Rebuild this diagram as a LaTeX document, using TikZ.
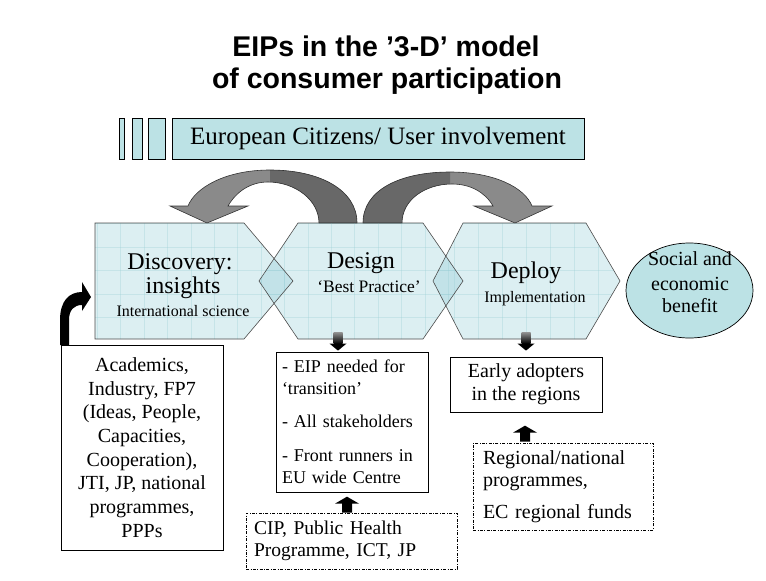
\documentclass[tikz,border=0pt]{standalone}
\usepackage{fontspec}
\setmainfont{Liberation Serif}
\newfontfamily\titlefont{Liberation Sans}
\usetikzlibrary{calc,shapes.geometric}
\definecolor{barfill}{HTML}{BCE2E5}
\definecolor{hexfill}{RGB}{110,187,200}
\definecolor{gridcol}{RGB}{150,205,212}
\definecolor{arrlight}{HTML}{8A8A8A}
\definecolor{arrdark}{HTML}{686868}
\newcommand\hexDiscovery{(95,223) -- (244,223) -- (293,281) -- (244,339) -- (95,339) -- cycle}
\newcommand\hexDesign{(259,281) -- (298,223) -- (423,223) -- (463,281) -- (423,339) -- (298,339) -- cycle}
\newcommand\hexDeploy{(433,281) -- (463,223) -- (586,223) -- (620,281) -- (586,339) -- (463,339) -- cycle}
\newcommand\arrowA{(357,223) .. controls (357,190) and (320,170) .. (270,170) .. controls (225,170) and (195,188) .. (188,206) -- (170,206) -- (207,223) -- (248,206) -- (228,206) .. controls (236,192) and (250,182) .. (268,182) .. controls (295,182) and (319,200) .. (319,223) -- cycle}
\newcommand\arrowB{(363,223) .. controls (363,190) and (400,172) .. (450,172) .. controls (495,172) and (525,188) .. (532,206) -- (552,206) -- (515,223) -- (474,206) -- (493,206) .. controls (485,192) and (470,184) .. (452,184) .. controls (425,184) and (402,200) .. (402,223) -- cycle}
\begin{document}
\begin{tikzpicture}[x=1pt,y=-1pt,
  hexfillstyle/.style={fill=hexfill, fill opacity=0.235},
  hexline/.style={draw=black!70, line width=0.6pt},
  gridline/.style={draw=gridcol, draw opacity=0.3, line width=0.5pt},
  arrline/.style={draw=black!80, line width=0.6pt},
  hexbig/.style={font=\fontsize{24}{28}\selectfont, inner sep=0pt},
  hexsmall/.style={font=\fontsize{16}{19}\selectfont, inner sep=0pt},
  ellipsetext/.style={font=\fontsize{20}{24}\selectfont, inner sep=0pt},
  box/.style={draw=black, line width=0.8pt, fill=white, inner sep=0pt},
  dbox/.style={draw=black, line width=0.7pt, dash pattern=on 3pt off 1.5pt on 0.8pt off 1.5pt, fill=white, inner sep=0pt},
  bar/.style={draw=black, line width=0.9pt, fill=barfill, inner sep=0pt, minimum height=41},
  titlestyle/.style={font=\titlefont\bfseries\fontsize{28.5}{32}\selectfont, inner sep=0pt},
  blockdown/.pic={
    \shade[top color=black!45, bottom color=black] (-4.5,-18) rectangle (4.5,-7);
    \fill[black] (-8.5,-7) -- (8.5,-7) -- (0,0) -- cycle;
  },
  blockup/.pic={
    \fill[black] (0,0) -- (12,7) -- (5,7) -- (5,16) -- (-5,16) -- (-5,7) -- (-12,7) -- cycle;
  }
]
\useasboundingbox (0,0) rectangle (766,581);
\fill[white] (0,0) rectangle (766,581);

% title
\node[titlestyle, anchor=base] (title1) at (386,56) {EIPs in the ’3-D’ model};
\node[titlestyle, anchor=base] (title2) at (387,88) {of consumer participation};

% top bar
\node[bar, minimum width=5] (bar1) at (121.5,138.5) {};
\node[bar, minimum width=10] (bar2) at (137,138.5) {};
\node[bar, minimum width=17] (bar3) at (156.5,138.5) {};
\node[bar, minimum width=412, font=\fontsize{25}{29}\selectfont] (citizens) at (378,138.5) {European Citizens/ User involvement};

% curved arrows
\fill[arrlight] \arrowA;
\begin{scope}
  \clip (270,150) rectangle (400,230);
  \fill[arrdark] \arrowA;
\end{scope}
\draw[arrline] \arrowA;
\fill[arrlight] \arrowB;
\begin{scope}
  \clip (340,150) rectangle (450,230);
  \fill[arrdark] \arrowB;
\end{scope}
\draw[arrline] \arrowB;

% hexagons
\fill[hexfillstyle] \hexDiscovery;
\fill[hexfillstyle] \hexDesign;
\fill[hexfillstyle] \hexDeploy;
\begin{scope}
  \clip \hexDiscovery;
  \foreach \x in {97.2,120.6,...,300} \draw[gridline] (\x,220) -- (\x,342);
  \foreach \y in {223.6,247,...,340} \draw[gridline] (90,\y) -- (300,\y);
\end{scope}
\begin{scope}
  \clip \hexDesign;
  \foreach \x in {261,284.4,...,470} \draw[gridline] (\x,220) -- (\x,342);
  \foreach \y in {223.6,247,...,340} \draw[gridline] (255,\y) -- (470,\y);
\end{scope}
\begin{scope}
  \clip \hexDeploy;
  \foreach \x in {430,454,...,625} \draw[gridline] (\x,220) -- (\x,342);
  \foreach \y in {223.6,247,...,340} \draw[gridline] (430,\y) -- (625,\y);
\end{scope}
\draw[hexline] \hexDiscovery;
\draw[hexline] \hexDesign;
\draw[hexline] \hexDeploy;

% hexagon texts
\node[hexbig, anchor=base] (disc1) at (180,269) {Discovery:};
\node[hexbig, anchor=base] (disc2) at (183,293) {insights};
\node[hexsmall, anchor=base] (disc3) at (183,316) {International science};
\node[hexbig, anchor=base] (des1) at (361,268) {Design};
\node[hexsmall, anchor=base, font=\fontsize{17.5}{20}\selectfont] (des2) at (369,292) {‘Best Practice’};
\node[hexbig, anchor=base] (dep1) at (526,278) {Deploy};
\node[hexsmall, anchor=base] (dep2) at (535,302) {Implementation};

% ellipse
\node[draw=black, line width=0.7pt, ellipse, fill=barfill, minimum width=127, minimum height=95, inner sep=0pt] (benefit) at (689.5,290.5) {};
\node[ellipsetext, anchor=base] (ben1) at (690,265) {Social and};
\node[ellipsetext, anchor=base] (ben2) at (690,290) {economic};
\node[ellipsetext, anchor=base] (ben3) at (690,312) {benefit};

% boxes
\node[box, minimum width=162, minimum height=205, align=center, font=\fontsize{20}{23.7}\selectfont] (acad) at (142,447.5)
  {Academics,\\Industry, FP7\\(Ideas, People,\\Capacities,\\Cooperation),\\JTI, JP, national\\programmes,\\PPPs};
\node[box, minimum width=152, minimum height=140, text width=140, align=left, font=\fontsize{18}{22}\selectfont] (eip) at (352,422)
  {- EIP needed for\\‘transition’\\[11pt]- All stakeholders\\[12pt]- Front runners in\\EU wide Centre};
\node[dbox, minimum width=211, minimum height=56, text width=195, align=left, font=\fontsize{19.5}{22}\selectfont] (cip) at (351.5,541)
  {CIP, Public Health\\Programme, ICT, JP};
\node[box, minimum width=152, minimum height=55, align=center, font=\fontsize{20}{23}\selectfont] (early) at (526,384.5)
  {Early adopters\\in the regions};
\node[dbox, minimum width=180, minimum height=87, text width=160, align=left, font=\fontsize{20}{22}\selectfont] (regional) at (563,486.5)
  {Regional/national\\programmes,\\[10pt]EC regional funds};

% block arrows
\pic at ([xshift=-14pt, yshift=1pt]eip.north) {blockdown};
\pic at ([yshift=6pt]early.north) {blockdown};
\pic at ([xshift=-4.5pt, yshift=16pt]cip.north) {blockup};
\pic at ([xshift=-38pt, yshift=17pt]regional.north) {blockup};

% bent arrow into Discovery
\fill[black] (60,345) -- (60,320) .. controls (60,301) and (69,292) .. (82,292) -- (82,282) -- (91,297) -- (82,311) -- (82,305) .. controls (74,305) and (69,310) .. (69,320) -- (69,345) -- cycle;
\end{tikzpicture}
\end{document}
